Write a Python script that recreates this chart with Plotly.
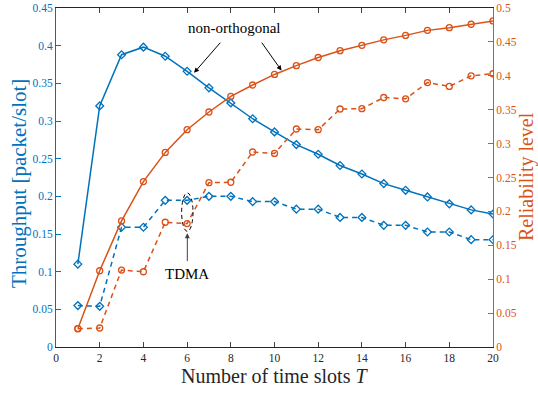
import plotly.graph_objects as go

T = list(range(1, 21))

thr_nonorth = [0.110, 0.320, 0.388, 0.398, 0.386, 0.366, 0.344, 0.324, 0.303, 0.2855,
               0.2687, 0.2558, 0.241, 0.2297, 0.2169, 0.208, 0.1992, 0.190, 0.182, 0.1766]
thr_tdma = [0.055, 0.054, 0.159, 0.159, 0.1947, 0.1947, 0.200, 0.200, 0.193, 0.193,
            0.183, 0.183, 0.172, 0.172, 0.1615, 0.1615, 0.1527, 0.1527, 0.1425, 0.1425]
rel_nonorth = [0.027, 0.1125, 0.186, 0.244, 0.287, 0.3205, 0.3466, 0.3696, 0.3864, 0.402,
               0.415, 0.427, 0.437, 0.445, 0.453, 0.4596, 0.467, 0.471, 0.476, 0.481]
rel_tdma = [0.027, 0.028, 0.1135, 0.111, 0.184, 0.182, 0.2423, 0.243, 0.2876, 0.2855,
            0.3215, 0.3205, 0.351, 0.3515, 0.368, 0.366, 0.390, 0.3844, 0.400, 0.403]

x_ticks = [0, 2, 4, 6, 8, 10, 12, 14, 16, 18, 20]
y1_ticks = [0, 0.05, 0.1, 0.15, 0.2, 0.25, 0.3, 0.35, 0.4, 0.45]
y2_ticks = [0, 0.05, 0.1, 0.15, 0.2, 0.25, 0.3, 0.35, 0.4, 0.45, 0.5]

BLUE = "#0072BD"
ORANGE = "#D95319"
FONT = "Liberation Serif, Times New Roman, DejaVu Serif, serif"
DASH = "5px,4px"

ML, MR, MT, MB = 56, 45, 8, 46
W, H = 538, 393

fig = go.Figure()
fig.add_trace(go.Scatter(x=T, y=thr_nonorth, mode="lines+markers", yaxis="y",
                         line=dict(color=BLUE, width=1.5),
                         marker=dict(symbol="diamond-open", size=6, color=BLUE, line=dict(width=1.3))))
fig.add_trace(go.Scatter(x=T, y=thr_tdma, mode="lines+markers", yaxis="y",
                         line=dict(color=BLUE, width=1.5, dash=DASH),
                         marker=dict(symbol="diamond-open", size=6, color=BLUE, line=dict(width=1.3))))
fig.add_trace(go.Scatter(x=T, y=rel_nonorth, mode="lines+markers", yaxis="y2",
                         line=dict(color=ORANGE, width=1.5),
                         marker=dict(symbol="circle-open", size=6, color=ORANGE, line=dict(width=1.3))))
fig.add_trace(go.Scatter(x=T, y=rel_tdma, mode="lines+markers", yaxis="y2",
                         line=dict(color=ORANGE, width=1.5, dash=DASH),
                         marker=dict(symbol="circle-open", size=6, color=ORANGE, line=dict(width=1.3))))

fig.update_layout(
    width=W, height=H,
    margin=dict(l=ML, r=MR, t=MT, b=MB, pad=0, autoexpand=False),
    paper_bgcolor="white", plot_bgcolor="white",
    showlegend=False,
    font=dict(family=FONT, size=12, color="black"),
    xaxis=dict(range=[0, 20], tickvals=x_ticks, ticks="inside", ticklen=5,
               showline=True, linecolor="#262626", linewidth=1, mirror="ticks",
               showgrid=False, zeroline=False, automargin=False,
               tickfont=dict(family=FONT, size=11.5, color="#262626")),
    yaxis=dict(range=[0, 0.45], tickvals=y1_ticks, ticktext=[f"{v:g}" for v in y1_ticks],
               ticks="inside", ticklen=5, tickcolor=BLUE,
               showline=True, linecolor=BLUE, linewidth=1,
               showgrid=False, zeroline=False, automargin=False,
               tickfont=dict(family=FONT, size=11.5, color=BLUE)),
    yaxis2=dict(range=[0, 0.5], tickvals=y2_ticks, ticktext=[f"{v:g}" for v in y2_ticks],
                overlaying="y", side="right",
                ticks="inside", ticklen=5, tickcolor=ORANGE,
                showline=True, linecolor=ORANGE, linewidth=1,
                showgrid=False, zeroline=False, automargin=False,
                tickfont=dict(family=FONT, size=11.5, color=ORANGE)),
)

# axis titles as annotations (precise placement)
fig.add_annotation(xref="paper", yref="paper", x=0.5, y=0, yanchor="middle", yshift=-29,
                   text="Number of time slots <i>T</i>", showarrow=False,
                   font=dict(family=FONT, size=20, color="#262626"))
fig.add_annotation(xref="paper", yref="paper", x=0, xanchor="center", xshift=18.5 - ML,
                   y=(H - MB - 183.5) / (H - MT - MB), yanchor="middle", textangle=-90,
                   text="Throughput [packet/slot]", showarrow=False,
                   font=dict(family=FONT, size=21, color=BLUE))
fig.add_annotation(xref="paper", yref="paper", x=1, xanchor="center", xshift=526.5 - (W - MR),
                   y=(H - MB - 176.5) / (H - MT - MB), yanchor="middle", textangle=-90,
                   text="Reliability level", showarrow=False,
                   font=dict(family=FONT, size=20, color=ORANGE))

# ellipse around TDMA points at T=6
fig.add_shape(type="circle", xref="x", yref="y", x0=5.75, x1=6.27, y0=0.1535, y1=0.2045,
              line=dict(color="black", width=1, dash="4px,3px"))

# annotations
fig.add_annotation(x=8.14, y=0.424, xref="x", yref="y", text="non-orthogonal", showarrow=False,
                   font=dict(family=FONT, size=15, color="black"))
fig.add_annotation(x=6.32, y=0.364, ax=7.58, ay=0.406, xref="x", yref="y", axref="x", ayref="y",
                   text="", showarrow=True, arrowhead=2, arrowsize=1, arrowwidth=1, arrowcolor="black")
fig.add_annotation(x=10.32, y=0.367, ax=9.37, ay=0.406, xref="x", yref="y", axref="x", ayref="y",
                   text="", showarrow=True, arrowhead=2, arrowsize=1, arrowwidth=1, arrowcolor="black")
fig.add_annotation(x=6.01, y=0.097, xref="x", yref="y", text="TDMA", showarrow=False,
                   font=dict(family=FONT, size=15, color="black"))
fig.add_annotation(x=6.01, y=0.151, ax=6.01, ay=0.112, xref="x", yref="y", axref="x", ayref="y",
                   text="", showarrow=True, arrowhead=2, arrowsize=1, arrowwidth=1, arrowcolor="#404040")

fig.write_html("out.html", config={"displayModeBar": False},
               post_script="document.body.style.margin='0';")
